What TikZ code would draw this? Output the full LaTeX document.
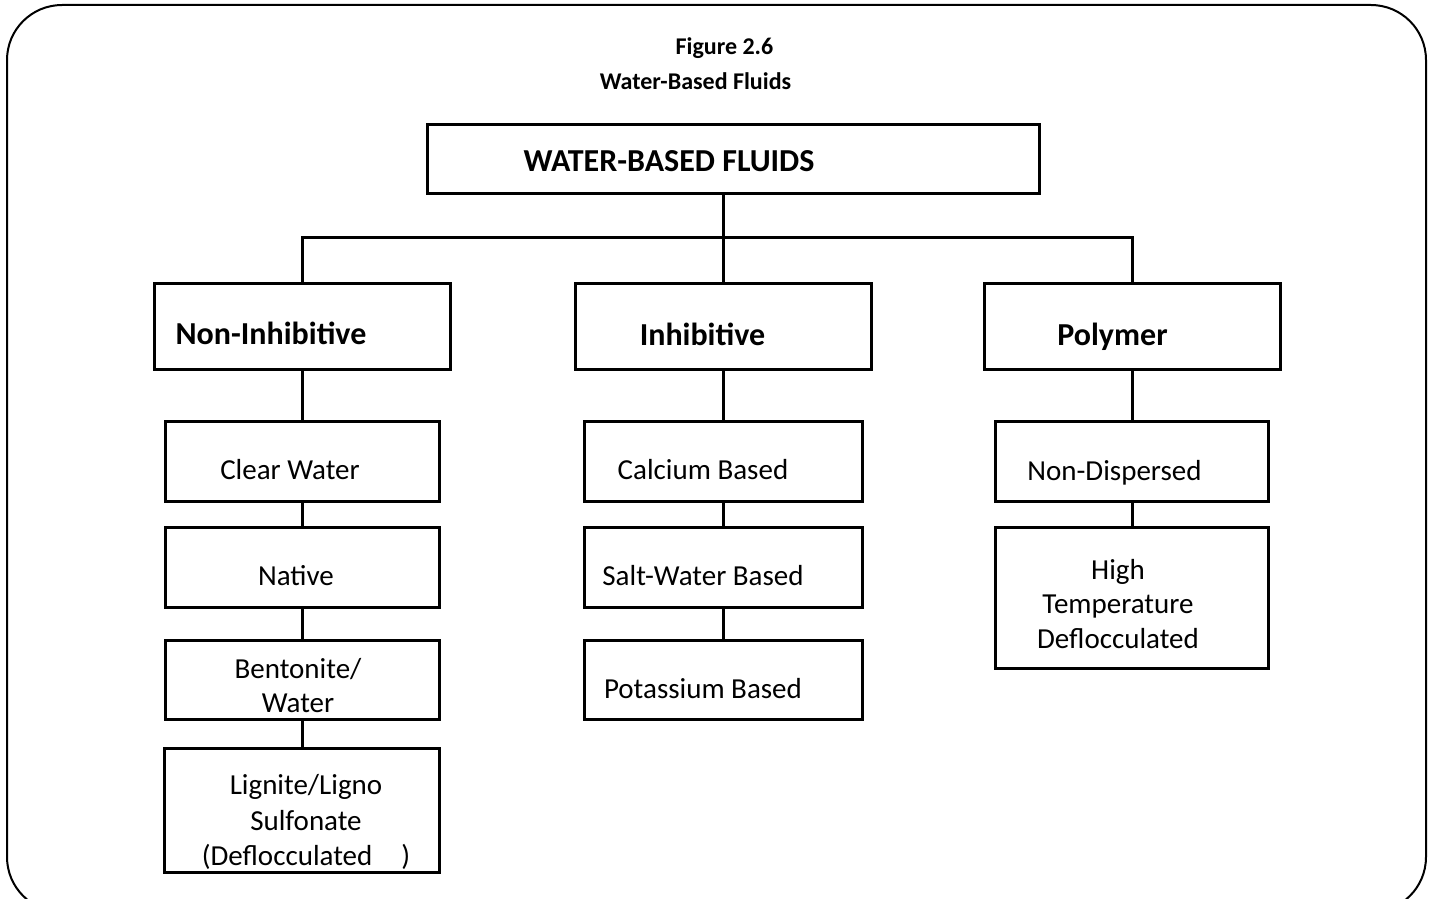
\documentclass[tikz,border=0pt]{standalone}
\usepackage{fontspec}
\setmainfont{Carlito}

\begin{document}
\begin{tikzpicture}[x=1pt, y=-1pt,
  boite/.style = {draw, line width=3pt, inner sep=0pt},
  trait/.style = {line width=3pt},
  titre/.style = {font=\fontsize{24}{28}\selectfont\bfseries, inner sep=0pt},
  gras/.style  = {font=\fontsize{32}{36}\selectfont\bfseries, inner sep=0pt},
  texte/.style = {font=\fontsize{29}{34.5}\selectfont, align=center, inner sep=0pt}]
  \useasboundingbox (0,0) rectangle (1433,899);

  % Le cadre
  \draw[line width=2pt, rounded corners=55pt] (7,5) rectangle (1426,912);

  % Le titre
  \node[titre] (fig) at (724.5,48) {Figure 2.6};
  \node[titre] (sousfig) at (695.5,81) {Water-Based Fluids};

  % Les boites
  \node[boite, minimum width=612pt, minimum height=69pt] (wbf) at (733,158.5) {};
  \node[boite, minimum width=296pt, minimum height=86pt] (noninh) at (302,326) {};
  \node[boite, minimum width=296pt, minimum height=86pt] (inh) at (723,326) {};
  \node[boite, minimum width=296pt, minimum height=86pt] (poly) at (1132,326) {};

  \node[boite, minimum width=274pt, minimum height=80pt] (clear) at (302,461) {};
  \node[boite, minimum width=274pt, minimum height=80pt] (native) at (302,567) {};
  \node[boite, minimum width=274pt, minimum height=79pt] (bento) at (302,679.5) {};
  \node[boite, minimum width=275pt, minimum height=124pt] (lignite) at (302,810) {};

  \node[boite, minimum width=278pt, minimum height=80pt] (calcium) at (723,461) {};
  \node[boite, minimum width=278pt, minimum height=80pt] (salt) at (723,567) {};
  \node[boite, minimum width=278pt, minimum height=79pt] (potas) at (723,679.5) {};

  \node[boite, minimum width=273pt, minimum height=80pt] (nondisp) at (1132,461) {};
  \node[boite, minimum width=273pt, minimum height=141pt] (hightemp) at (1132,597.5) {};

  % Les traits
  \coordinate (bus) at (723,237);
  \draw[trait] (inh.north |- wbf.south) -- (inh.north);
  \draw[trait] (noninh.north) |- (bus) -| (poly.north);
  \draw[trait] (noninh) -- (clear) -- (native) -- (bento) -- (lignite);
  \draw[trait] (inh) -- (calcium) -- (salt) -- (potas);
  \draw[trait] (poly) -- (nondisp) -- (hightemp);

  % Les textes
  \node[gras] (t-wbf) at (669,161) {WATER-BASED FLUIDS};
  \node[gras] (t-noninh) at (271,333) {Non-Inhibitive};
  \node[gras] (t-inh) at (702.5,334) {Inhibitive};
  \node[gras] (t-poly) at (1112.5,337) {Polymer};

  \node[texte] (t-clear) at (290,470) {Clear Water};
  \node[texte] (t-native) at (296,576) {Native};
  \node[texte] (t-bento) at (298,685.5) {Bentonite/\\Water};
  \node[texte, font=\fontsize{29}{35.5}\selectfont] (t-lignite) at (306,822)
    {Lignite/Ligno\\Sulfonate\\(Deflocculated\hspace{1em})};

  \node[texte] (t-calcium) at (703,470) {Calcium Based};
  \node[texte] (t-salt) at (703,576) {Salt-Water Based};
  \node[texte] (t-potas) at (703,689) {Potassium Based};

  \node[texte] (t-nondisp) at (1114.5,473) {Non-Dispersed};
  \node[texte] (t-hightemp) at (1118,604) {High\\Temperature\\Deflocculated};
\end{tikzpicture}
\end{document}
